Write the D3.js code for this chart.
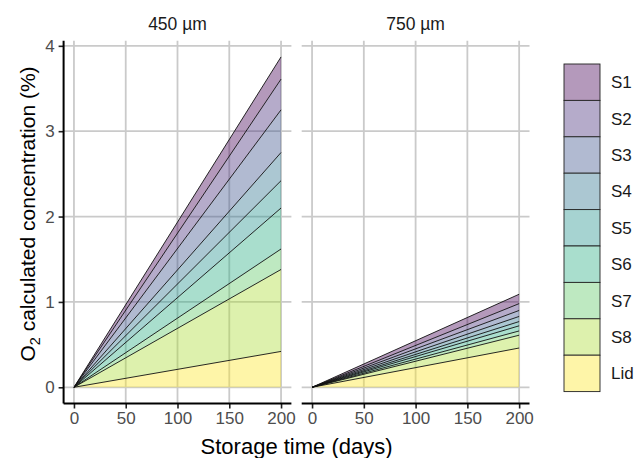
<!DOCTYPE html>
<html>
<head>
<meta charset="utf-8">
<script src="https://cdn.jsdelivr.net/npm/d3@7"></script>
<style>
  body { margin: 0; background: #fff; }
  text { font-family: "Liberation Sans", Arial, sans-serif; }
</style>
</head>
<body>
<div id="chart"></div>
<script>
// Layers from top to bottom, as in the legend
var layers = ["S1", "S2", "S3", "S4", "S5", "S6", "S7", "S8", "Lid"];
var panels = ["450 µm", "750 µm"];
var days = [0, 200];
// O2 contribution of each layer at day 200 (at day 0 all are 0)
var contrib450 = [0.26, 0.36, 0.50, 0.33, 0.32, 0.48, 0.24, 0.96, 0.42];
var contrib750 = [0.11, 0.08, 0.07, 0.06, 0.05, 0.06, 0.05, 0.15, 0.46];
var xTicks = [0, 50, 100, 150, 200];
var yTicks = [0, 1, 2, 3, 4];

var colors = ["#440154", "#472D7B", "#3B528B", "#2C728E", "#21908C", "#27AD81", "#5DC863", "#AADC32", "#FDE725"];

var width = 638,
    height = 458;

var svg = d3.select("#chart")
            .append("svg")
              .attr("width", width)
              .attr("height", height);

// Panel positions
var panelX = [63.6, 301.7],
    panelW = 227.8,
    panelTop = 40.7,
    panelBottom = 403.5;

var y = d3.scaleLinear()
          .domain([-0.19, 4.06])
          .range([panelBottom, panelTop]);

var color = d3.scaleOrdinal()
              .domain(layers)
              .range(colors);

// stack order: Lid at the bottom, S1 on top
var stackKeys = layers.slice().reverse();

function buildRows(contrib) {
  return days.map(function(d) {
    var row = {day: d};
    layers.forEach(function(l, i) {
      row[l] = d == 0 ? 0 : contrib[i];
    });
    return row;
  });
}

var datasets = [buildRows(contrib450), buildRows(contrib750)];

var tickFont = "17px";

panels.forEach(function(name, p) {

  var x = d3.scaleLinear()
            .domain([-10, 210])
            .range([panelX[p], panelX[p] + panelW]);

  var g = svg.append("g");

  // grid lines
  g.selectAll(".gx")
    .data(xTicks)
    .enter()
    .append("line")
      .attr("x1", function(d) { return x(d); })
      .attr("x2", function(d) { return x(d); })
      .attr("y1", panelTop)
      .attr("y2", panelBottom)
      .attr("stroke", "#cacaca")
      .attr("stroke-width", 1.8);

  g.selectAll(".gy")
    .data(yTicks)
    .enter()
    .append("line")
      .attr("x1", panelX[p])
      .attr("x2", panelX[p] + panelW)
      .attr("y1", function(d) { return y(d); })
      .attr("y2", function(d) { return y(d); })
      .attr("stroke", "#cacaca")
      .attr("stroke-width", 1.8);

  // stacked areas
  var series = d3.stack().keys(stackKeys)(datasets[p]);

  var area = d3.area()
               .x(function(d) { return x(d.data.day); })
               .y0(function(d) { return y(d[0]); })
               .y1(function(d) { return y(d[1]); });

  var line = d3.line()
               .x(function(d) { return x(d.data.day); })
               .y(function(d) { return y(d[1]); });

  g.selectAll(".area")
    .data(series)
    .enter()
    .append("path")
      .attr("d", area)
      .attr("fill", function(d) { return color(d.key); })
      .attr("fill-opacity", 0.4);

  g.selectAll(".edge")
    .data(series)
    .enter()
    .append("path")
      .attr("d", line)
      .attr("fill", "none")
      .attr("stroke", "#111")
      .attr("stroke-width", 0.9);

  // x axis
  var xAxis = g.append("g")
               .attr("transform", "translate(0," + panelBottom + ")")
               .call(d3.axisBottom(x).tickValues(xTicks).tickSize(5).tickPadding(3));
  xAxis.select(".domain").remove();
  xAxis.append("line")
    .attr("x1", panelX[p])
    .attr("x2", panelX[p] + panelW)
    .attr("stroke", "#000")
    .attr("stroke-width", 2);
  xAxis.selectAll(".tick line").attr("stroke", "#222").attr("stroke-width", 1.6);
  xAxis.selectAll(".tick text")
    .attr("fill", "#4d4d4d")
    .style("font-size", tickFont)
    .style("font-family", "Liberation Sans, Arial, sans-serif");

  // y axis on the first panel only
  if (p == 0) {
    var yAxis = g.append("g")
                 .attr("transform", "translate(" + panelX[p] + ",0)")
                 .call(d3.axisLeft(y).tickValues(yTicks).tickFormat(d3.format("d")).tickSize(5).tickPadding(4));
    yAxis.select(".domain").remove();
    yAxis.append("line")
      .attr("y1", panelTop)
      .attr("y2", panelBottom)
      .attr("stroke", "#000")
      .attr("stroke-width", 2);
    yAxis.selectAll(".tick line").attr("stroke", "#222").attr("stroke-width", 1.6);
    yAxis.selectAll(".tick text")
      .attr("fill", "#4d4d4d")
      .style("font-size", tickFont)
      .style("font-family", "Liberation Sans, Arial, sans-serif");
  }

  // strip title
  g.append("text")
    .attr("x", panelX[p] + panelW / 2)
    .attr("y", 30)
    .attr("text-anchor", "middle")
    .attr("fill", "#1a1a1a")
    .style("font-size", "17.5px")
    .text(name);
});

// Axis titles
svg.append("text")
  .attr("x", (panelX[0] + panelX[1] + panelW) / 2)
  .attr("y", 454)
  .attr("text-anchor", "middle")
  .attr("fill", "#000")
  .style("font-size", "22px")
  .text("Storage time (days)");

var yTitle = svg.append("text")
  .attr("transform", "translate(35,214) rotate(-90)")
  .attr("text-anchor", "middle")
  .attr("fill", "#000")
  .style("font-size", "21px");
yTitle.append("tspan").text("O");
yTitle.append("tspan").attr("dy", 5).style("font-size", "14.5px").text("2");
yTitle.append("tspan").attr("dy", -5).text(" calculated concentration (%)");

// Legend
var keyH = 36.4,
    keyW = 36,
    legendX = 564,
    legendY = 64;

var legend = svg.selectAll(".legend")
                .data(layers)
                .enter()
                .append("g")
                  .attr("class", "legend")
                  .attr("transform", function(d, i) {
                    return "translate(" + legendX + "," + (legendY + i * keyH) + ")";
                  });

legend.append("rect")
      .attr("width", keyW)
      .attr("height", keyH)
      .attr("fill", "#fff");

legend.append("rect")
      .attr("width", keyW)
      .attr("height", keyH)
      .attr("fill", function(d) { return color(d); })
      .attr("fill-opacity", 0.4)
      .attr("stroke", "#222")
      .attr("stroke-width", 0.9);

legend.append("text")
      .attr("x", keyW + 11)
      .attr("y", keyH / 2)
      .attr("dy", "0.35em")
      .attr("fill", "#1a1a1a")
      .style("font-size", "17px")
      .text(function(d) { return d; });
</script>
</body>
</html>
